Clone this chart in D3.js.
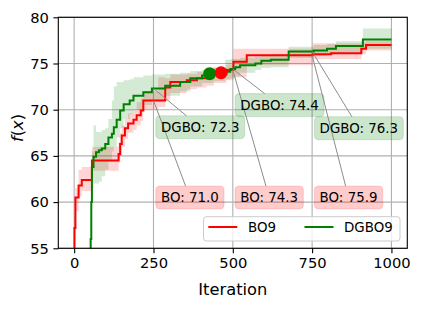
<!DOCTYPE html>
<html><head><meta charset="utf-8">
<script src="https://cdn.jsdelivr.net/npm/d3@7"></script>
<style>body{margin:0;background:#fff}svg{display:block}text{font-family:"DejaVu Sans",sans-serif}</style>
</head><body><svg id="c" width="422" height="309"></svg>
<script>
// ---- data ----
const boIter  = [0,1,4,14,24,56,140,145,150,160,170,187,197,210,218,265,287,303,355,387,418,440,480,502,544,752,810,905,920,1000];
const boMean  = [48,57.2,60.5,61.8,62.4,64.5,65.2,66.3,67.2,68.0,68.5,68.9,69.4,69.9,71.0,71.0,72.4,73.0,73.2,73.4,73.6,73.9,74.3,75.2,75.9,76.0,76.1,76.6,77.0,77.0];
const boLow   = [47,56.0,59.0,60.6,61.2,63.4,64.2,65.0,66.0,66.8,67.5,67.8,68.3,68.8,70.0,70.3,71.0,71.8,72.2,72.4,72.6,72.9,73.2,73.5,74.8,75.5,75.5,76.0,76.4,76.4];
const boHigh  = [49,58.5,61.5,63.5,63.8,66.0,66.5,67.5,68.3,69.0,69.6,70.0,70.8,71.2,72.0,73.5,73.4,73.8,73.9,74.1,74.2,74.6,74.9,76.6,76.6,77.2,77.2,77.3,77.4,77.4];

const dgIter  = [50,52,54,56,61,69,78,87,98,108,119,125,134,145,156,175,187,218,245,287,334,366,403,440,476,492,508,523,571,590,620,676,755,797,825,910,1000];
const dgMean  = [48,56,60,63.8,64.9,65.4,65.6,65.8,66.3,67.0,67.4,68.1,68.9,69.9,70.6,71.0,71.5,71.9,72.3,72.6,73.0,73.4,73.7,73.9,74.1,74.4,74.6,74.8,75.0,75.3,75.4,76.3,76.4,76.6,76.9,77.6,77.6];
const dgLow   = [47,54,58,61.5,62.0,62.0,62.2,62.8,63.5,64.5,65.5,66.0,67.0,68.0,69.0,69.5,70.0,70.5,71.0,71.5,72.0,72.5,72.9,73.1,73.3,73.4,73.6,74.0,74.3,74.5,74.6,75.6,75.8,76.0,76.2,76.6,76.6];
const dgHigh  = [49,58,62,65.5,68.3,67.6,67.6,67.8,68.0,69.0,71.0,72.5,73.0,73.0,73.2,73.3,73.5,73.7,73.8,73.9,74.0,74.2,74.3,74.5,75.4,75.5,75.5,75.6,75.7,75.8,76.0,76.8,77.0,77.1,77.4,78.8,78.8];

const xTicks = [0,250,500,750,1000];
const yTicks = [55,60,65,70,75,80];
const annIters   = [250,500,750];
const boAnnVals  = [71.0,74.3,75.9];
const dgAnnVals  = [72.3,74.4,76.3];
const boLabelY   = [60.5,60.5,60.5];
const dgLabelY   = [68.1,70.5,68.0];
const markIter   = [427,463];
const markVal    = [73.9,74.0];
const seriesNames = ["BO9","DGBO9"];

// ---- layout ----
const svg = d3.select("#c");
const L=58.3,R=407.3,T=17.3,B=248.3;
const x = d3.scaleLinear().domain([-50,1050]).range([L,R]);
const y = d3.scaleLinear().domain([55,80]).range([B,T]);
const red="#ff0000", green="#008000";

svg.append("defs").append("clipPath").attr("id","clip").append("rect")
  .attr("x",L).attr("y",T).attr("width",R-L).attr("height",B-T);

// grid
const g = svg.append("g");
g.selectAll(".gx").data(xTicks).join("line").attr("x1",d=>x(d)).attr("x2",d=>x(d))
  .attr("y1",T).attr("y2",B).attr("stroke","#b0b0b0").attr("stroke-width",1.1);
g.selectAll(".gy").data(yTicks).join("line").attr("y1",d=>y(d)).attr("y2",d=>y(d))
  .attr("x1",L).attr("x2",R).attr("stroke","#b0b0b0").attr("stroke-width",1.1);

const plot = svg.append("g").attr("clip-path","url(#clip)");
function series(it, m, lo, hi, col){
  const d = it.map((v,i)=>({i:v,m:m[i],lo:lo[i],hi:hi[i]}));
  plot.append("path").datum(d).attr("fill",col).attr("fill-opacity",0.17)
    .attr("d", d3.area().curve(d3.curveStepAfter).x(p=>x(p.i)).y0(p=>y(p.lo)).y1(p=>y(p.hi)));
  return d;
}
const bd = series(boIter,boMean,boLow,boHigh,red);
const gd = series(dgIter,dgMean,dgLow,dgHigh,green);
const line = d3.line().curve(d3.curveStepAfter).x(p=>x(p.i)).y(p=>y(p.m));
plot.append("path").datum(bd).attr("fill","none").attr("stroke",red).attr("stroke-width",2).attr("d",line);
plot.append("path").datum(gd).attr("fill","none").attr("stroke",green).attr("stroke-width",2).attr("d",line);

// markers
const mcol=[green,red];
svg.selectAll(".mk").data(markIter).join("circle").attr("cx",d=>x(d)).attr("cy",(d,i)=>y(markVal[i]))
  .attr("r",6.5).attr("fill",(d,i)=>mcol[i]);

// annotations
function annotate(it, val, ly, label, fc, ec){
  const px=x(it), py=y(val);
  const t = svg.append("text").attr("x",x(it)+7.5).attr("y",y(ly)).attr("dominant-baseline","central")
    .attr("font-size","13.4px").attr("fill","#000").text(label);
  const bb = t.node().getBBox();
  const pad=5.2;
  const bx=bb.x-pad, by=y(ly)-11.5, bw=bb.width+2*pad, bh=23;
  const cx=bx+bw/2, cy=by+bh/2;
  // intersection of segment center->point with box
  const dx=px-cx, dy=py-cy;
  let tt=Infinity;
  if(dx!==0) tt=Math.min(tt, Math.abs((bw/2)/dx));
  if(dy!==0) tt=Math.min(tt, Math.abs((bh/2)/dy));
  const sx=cx+dx*tt, sy=cy+dy*tt;
  svg.insert("line","text").attr("x1",sx).attr("y1",sy).attr("x2",px).attr("y2",py)
    .attr("stroke","#8c8c8c").attr("stroke-width",1);
  svg.insert("rect","text").attr("x",bx).attr("y",by).attr("width",bw).attr("height",bh)
    .attr("rx",4).attr("fill",fc).attr("stroke",ec).attr("stroke-width",1.2);
  t.raise();
}
annIters.forEach((it,i)=>{
  annotate(it, dgAnnVals[i], dgLabelY[i], "DGBO: "+dgAnnVals[i].toFixed(1), "rgba(0,128,0,0.2)", "rgba(0,110,0,0.12)");
  annotate(it, boAnnVals[i], boLabelY[i], "BO: "+boAnnVals[i].toFixed(1), "rgba(255,0,0,0.2)", "rgba(220,0,0,0.12)");
});

// axes
const ax = svg.append("g").attr("transform",`translate(0,${B})`)
  .call(d3.axisBottom(x).tickValues(xTicks).tickSize(4.9).tickPadding(4.5).tickFormat(d3.format("d")));
const ay = svg.append("g").attr("transform",`translate(${L},0)`)
  .call(d3.axisLeft(y).tickValues(yTicks).tickSize(4.9).tickPadding(4.5).tickFormat(d3.format("d")));
[ax,ay].forEach(a=>{
  a.select(".domain").remove();
  a.selectAll("line").attr("stroke","#000").attr("stroke-width",1.1);
  a.selectAll("text").attr("font-size","14.7px").attr("fill","#000").attr("font-family","DejaVu Sans");
});
// spines
svg.append("rect").attr("x",L).attr("y",T).attr("width",R-L).attr("height",B-T)
  .attr("fill","none").attr("stroke","#000").attr("stroke-width",1.1);

// axis labels
svg.append("text").attr("x",(L+R)/2).attr("y",295).attr("text-anchor","middle")
  .attr("font-size","16.3px").text("Iteration");
const yl = svg.append("text").attr("transform","translate(22.5,128) rotate(-90)").attr("text-anchor","middle")
  .attr("font-size","16.3px");
yl.append("tspan").attr("font-style","italic").text("f");
yl.append("tspan").text("(");
yl.append("tspan").attr("font-style","italic").text("x");
yl.append("tspan").text(")");

// legend
const lg = svg.append("g");
lg.append("rect").attr("x",203.5).attr("y",216.7).attr("width",196.5).attr("height",24.3).attr("rx",3)
  .attr("fill","rgba(255,255,255,0.8)").attr("stroke","#cccccc").attr("stroke-width",1);
const lx=[208.3,304.5], tx=[248,344];
seriesNames.forEach((n,i)=>{
  lg.append("line").attr("x1",lx[i]).attr("x2",lx[i]+29).attr("y1",227).attr("y2",227)
    .attr("stroke",i?green:red).attr("stroke-width",2);
  lg.append("text").attr("x",tx[i]).attr("y",232.3).attr("font-size","13.4px").text(n);
});
</script></body></html>
